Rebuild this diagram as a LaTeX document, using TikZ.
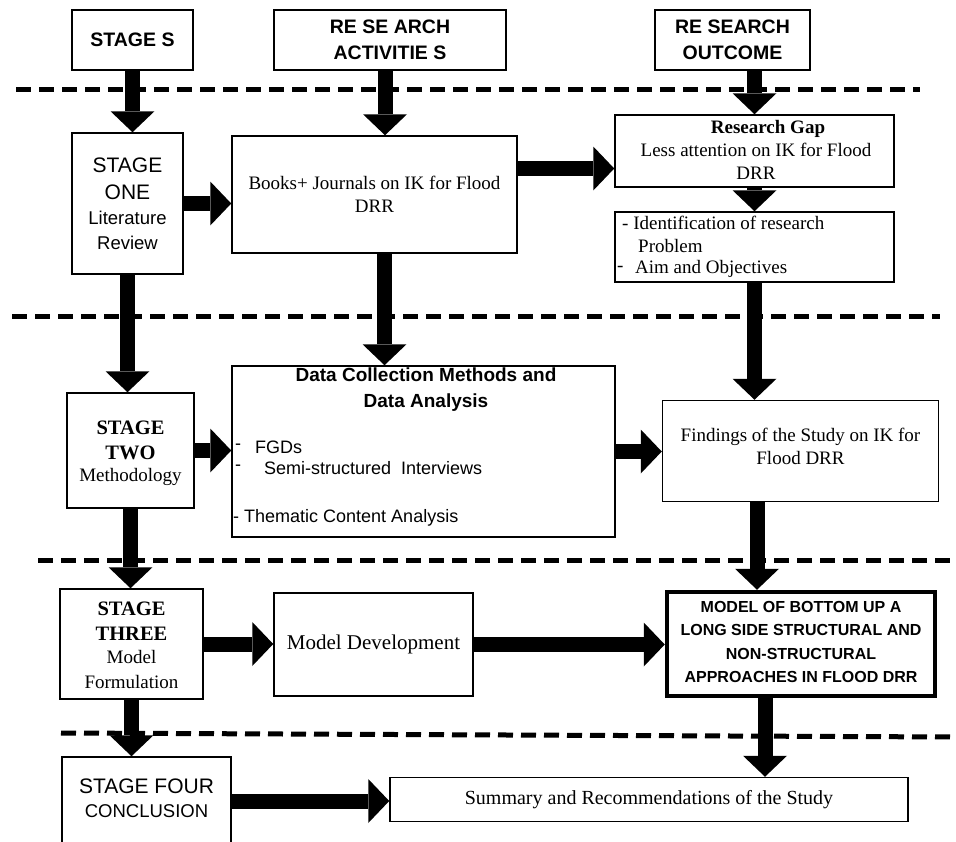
\documentclass[tikz,border=0pt]{standalone}
\usepackage{fontspec}
\setmainfont{Liberation Serif}
\setsansfont{Liberation Sans}
\usetikzlibrary{arrows.meta}
\begin{document}
\begin{tikzpicture}[x=1pt,y=-1pt,
  box/.style={draw, line width=1.5pt, fill=white, inner sep=0pt},
  heavybox/.style={draw, line width=4.5pt, fill=white, inner sep=0pt},
  barrow/.style={line width=15pt, -{Triangle[width=44pt,length=21pt,line width=0pt]}},
  dashline/.style={line width=5pt, dash pattern=on 15pt off 8pt},
  txt/.style={inner sep=0pt, align=center},
  hdr/.style={txt, font=\sffamily\bfseries\fontsize{19.5}{26}\selectfont},
  sfbig/.style={txt, font=\sffamily\fontsize{21}{27}\selectfont},
  sfmid/.style={txt, font=\sffamily\fontsize{18.5}{25}\selectfont},
  serbody/.style={txt, font=\rmfamily\fontsize{19}{23}\selectfont},
  serbold/.style={txt, font=\rmfamily\bfseries\fontsize{20.5}{25}\selectfont},
  listtxt/.style={inner sep=0pt, anchor=west, font=\sffamily\fontsize{18}{22}\selectfont},
  identtxt/.style={inner sep=0pt, anchor=west, font=\rmfamily\fontsize{19}{23}\selectfont}
]
\useasboundingbox (0,0) rectangle (956,841);
\fill[white] (0,0) rectangle (956,841);

% dashed separators
\draw[dashline] (16,89) -- (920,89);
\draw[dashline] (12,316) -- (940,316);
\draw[dashline] (38,560) -- (950,560);
\draw[dashline] (61,733) -- (956,737);

% header boxes
\node[box, minimum width=121pt, minimum height=60pt] (hS) at (132.5,40) {};
\node[box, minimum width=232pt, minimum height=60pt] (hA) at (390,40) {};
\node[box, minimum width=155pt, minimum height=60pt] (hO) at (732.5,40) {};
\node[hdr] (hSt) at (hS) {STAGE S};
\node[hdr] (hAt) at (hA) {RE SE ARCH\\ACTIVITIE S};
\node[hdr] (hOt) at (hO) {RE SEARCH\\OUTCOME};

% stage one row
\node[box, minimum width=111pt, minimum height=141pt] (s1) at (127.5,203.5) {};
\node[box, minimum width=285pt, minimum height=117pt] (books) at (374.5,194.5) {};
\node[box, minimum width=279pt, minimum height=72pt] (gap) at (754.5,151) {};
\node[box, minimum width=279pt, minimum height=70pt] (ident) at (754.5,247) {};
\node[sfbig] (s1a) at (127.5,178.5) {STAGE\\ONE};
\node[sfmid] (s1b) at (127.5,230.5) {Literature\\Review};
\node[serbody] (bookst) at (374.5,194) {Books+ Journals on IK for Flood\\DRR};
\node[serbody] (gapt) at (756,150) {\hspace*{24pt}\textbf{Research Gap}\\Less attention on IK for Flood\\DRR};
\node[identtxt] (i1) at (622,223) {- Identification of research};
\node[identtxt] (i2) at (638,246) {Problem};
\node[identtxt] (i3) at (617,269) {-};
\node[identtxt] (i4) at (635,269) {Aim and Objectives};

% stage two row
\node[box, minimum width=127pt, minimum height=115pt] (s2) at (130.5,450.5) {};
\node[box, minimum width=383pt, minimum height=171pt] (data) at (423.5,451.5) {};
\node[box, minimum width=276pt, minimum height=101pt] (find) at (800.5,451) {};
\node[serbold] (s2a) at (130.5,440) {STAGE\\TWO};
\node[serbody] (s2b) at (130.5,477) {Methodology};
\node[txt, font=\sffamily\bfseries\fontsize{19}{26}\selectfont] (dtitle) at (426,390) {Data Collection Methods and\\Data Analysis};
\node[listtxt] (d1a) at (235,447) {-};
\node[listtxt] (d1b) at (255,447) {FGDs};
\node[listtxt] (d2a) at (235,468) {-};
\node[listtxt] (d2b) at (264,468) {Semi-structured\ \ Interviews};
\node[listtxt] (d3) at (233,518) {- Thematic Content Analysis};
\node[serbody] (findt) at (800.5,446) {Findings of the Study on IK for\\Flood DRR};

% stage three row
\node[box, minimum width=143pt, minimum height=110pt] (s3) at (131.5,644) {};
\node[box, minimum width=199pt, minimum height=103pt] (mdev) at (373.5,644.5) {};
\node[heavybox, minimum width=268pt, minimum height=104pt] (model) at (801,644) {};
\node[serbold] (s3a) at (131.5,621) {STAGE\\THREE};
\node[serbody, font=\rmfamily\fontsize{19}{25}\selectfont] (s3b) at (131.5,669.5) {Model\\Formulation};
\node[txt, font=\rmfamily\fontsize{21}{25}\selectfont] (mdevt) at (mdev) {Model Development};
\node[txt, font=\sffamily\bfseries\fontsize{16}{23.3}\selectfont] (modelt) at (801,642) {MODEL OF BOTTOM UP A\\LONG SIDE STRUCTURAL AND\\NON-STRUCTURAL\\APPROACHES IN FLOOD DRR};

% stage four row
\node[box, minimum width=169pt, minimum height=88pt] (s4) at (146.5,801) {};
\node[box, minimum width=518pt, minimum height=44pt] (summ) at (649,799.5) {};
\node[sfbig] (s4a) at (146.5,786) {STAGE FOUR};
\node[txt, font=\sffamily\fontsize{18.5}{22}\selectfont] (s4b) at (146.5,811) {CONCLUSION};
\node[txt, font=\rmfamily\fontsize{20}{24}\selectfont] (summt) at (summ) {Summary and Recommendations of the Study};

% block arrows
\draw[barrow] (hS.south) -- (hS.south |- s1.north);
\draw[barrow] ([xshift=-5pt]hA.south) -- ([xshift=-5pt]hA.south |- books.north);
\draw[barrow] (hO.south -| gap.north) -- (gap.north);
\draw[barrow] (s1.east) -- (s1.east -| books.west);
\draw[barrow] ([yshift=26pt]books.east) -- ([yshift=26pt]books.east -| gap.west);
\draw[barrow] (gap.south) -- (ident.north);
\draw[barrow] (s1.south) -- (s1.south |- s2.north);
\draw[barrow] ([xshift=10pt]books.south) -- ([xshift=10pt]books.south |- data.north);
\draw[barrow] (ident.south) -- (ident.south |- find.north);
\draw[barrow] (s2.east) -- (s2.east -| data.west);
\draw[barrow] (data.east) -- (data.east -| find.west);
\draw[barrow] (s2.south) -- (s2.south |- s3.north);
\draw[barrow] ([xshift=-43.5pt]find.south) -- ([xshift=-43.5pt]find.south |- model.north);
\draw[barrow] (s3.east) -- (s3.east -| mdev.west);
\draw[barrow] (mdev.east) -- (mdev.east -| model.west);
\draw[barrow] (s3.south) -- (s3.south |- s4.north);
\draw[barrow] ([xshift=-36pt]model.south) -- ([xshift=-36pt]model.south |- summ.north);
\draw[barrow] (s4.east) -- (s4.east -| summ.west);
\end{tikzpicture}
\end{document}
